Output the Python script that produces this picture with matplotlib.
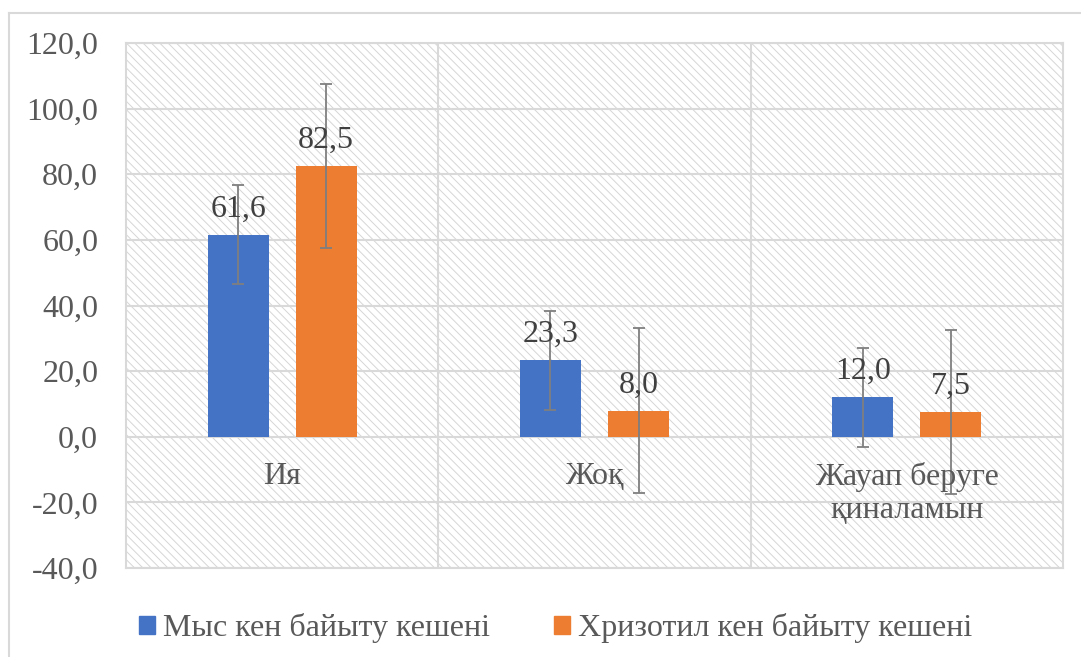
import numpy as np
import matplotlib.pyplot as plt
from matplotlib.patches import Rectangle
from matplotlib.lines import Line2D

categories = ["Ия", "Жоқ", "Жауап беруге\nқиналамын"]
series_names = ["Мыс кен байыту кешені", "Хризотил кен байыту кешені"]
copper = [61.6, 23.3, 12.0]
chrysotile = [82.5, 8.0, 7.5]
copper_err = [15.0, 15.0, 15.0]
chrysotile_err = [25.0, 25.0, 25.0]
yticks = [-40, -20, 0, 20, 40, 60, 80, 100, 120]

blue = "#4472C4"
orange = "#ED7D31"
grid_c = "#D9D9D9"
text_c = "#595959"

plt.rcParams["font.family"] = ["Liberation Serif", "DejaVu Serif"]
plt.rcParams["hatch.linewidth"] = 0.7

W, H = 1081, 657
fig = plt.figure(figsize=(W / 100, H / 100), dpi=100)
ax = fig.add_axes([126 / W, 1 - 568 / H, (1063 - 126) / W, (568 - 43) / H])

# chart border (top and left visible)
fig.add_artist(Line2D([9 / W, 1], [1 - 13 / H, 1 - 13 / H], color=grid_c, lw=1.5,
                      transform=fig.transFigure))
fig.add_artist(Line2D([9 / W, 9 / W], [0, 1 - 13 / H], color=grid_c, lw=1.5,
                      transform=fig.transFigure))

# hatched plot area
ax.add_patch(Rectangle((0, 0), 1, 1, transform=ax.transAxes, facecolor="white",
                       edgecolor="#D6D6D6", hatch="\\\\\\\\", lw=0, zorder=0))

x = np.arange(len(categories))
width = 0.195
off = 0.141

for vals, errs, col, sign in [(copper, copper_err, blue, -1),
                              (chrysotile, chrysotile_err, orange, 1)]:
    ax.bar(x + sign * off, vals, width, color=col, zorder=3)
    ax.errorbar(x + sign * off, vals, yerr=errs, fmt="none", ecolor="#7F7F7F",
                elinewidth=1.3, capsize=4, capthick=1.3, zorder=4)
    for xi, v in zip(x + sign * off, vals):
        ax.annotate(f"{v:.1f}".replace(".", ","), (xi, v), xytext=(0, 13),
                    textcoords="offset points", ha="center", va="baseline",
                    fontsize=23, color="#404040", zorder=5)

ax.set_xlim(-0.5, 2.5)
ax.set_ylim(-40, 120)
ax.set_yticks(yticks)
ax.set_yticklabels([f"{t:.1f}".replace(".", ",") for t in yticks])
ax.tick_params(axis="y", length=0, pad=20, labelsize=23, labelcolor=text_c)
ax.set_xticks([])

for t in yticks:
    ax.axhline(t, color=grid_c, lw=1.5, zorder=1)
for b in [0.5, 1.5]:
    ax.axvline(b, color=grid_c, lw=1.5, zorder=1)
for s in ax.spines.values():
    s.set_color(grid_c)
    s.set_linewidth(1.5)

# category labels below zero line
for xi, lab in zip(x, categories):
    ax.annotate(lab, (xi, 0), xytext=(0, -18), textcoords="offset points",
                ha="center", va="top", fontsize=23, color=text_c,
                linespacing=1.2, zorder=5)

handles = [Rectangle((0, 0), 1, 1, color=blue), Rectangle((0, 0), 1, 1, color=orange)]
fig.legend(handles, series_names, loc="center", bbox_to_anchor=(556 / W, 1 - 628 / H),
           ncol=2, frameon=False, fontsize=23, labelcolor=text_c,
           handlelength=0.5, handleheight=0.5, handletextpad=0.25, columnspacing=2.0)

fig.savefig("out.png", dpi=100)
